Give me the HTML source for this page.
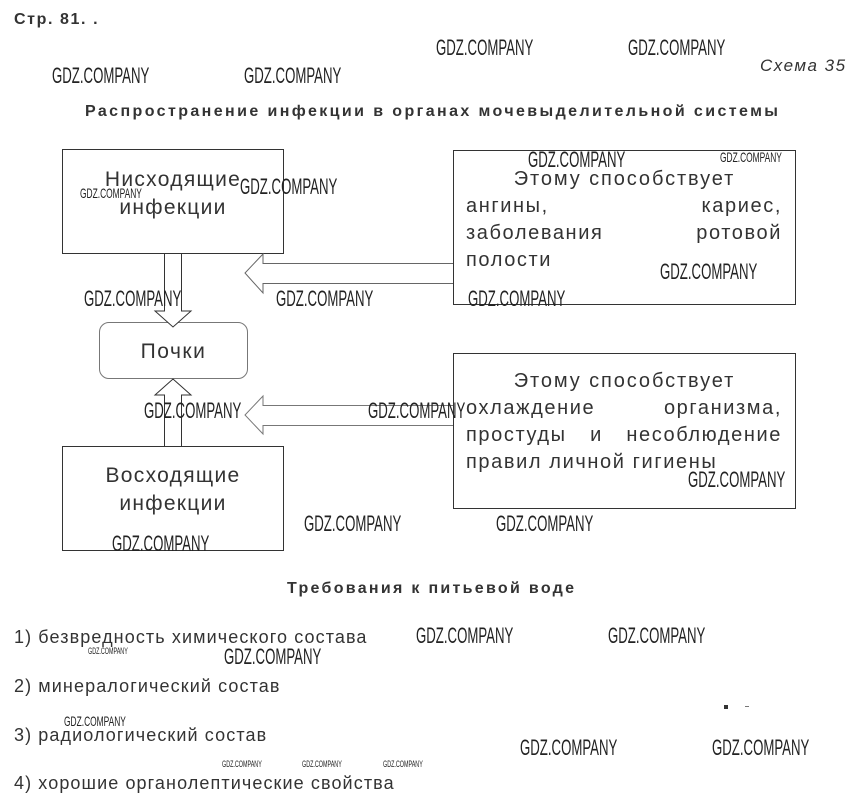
<!DOCTYPE html>
<html><head><meta charset="utf-8">
<style>
body{margin:0;width:854px;height:810px;background:#fff;position:relative;overflow:hidden;font-family:"Liberation Sans","DejaVu Sans",sans-serif;color:#333}
.a{position:absolute;white-space:nowrap;line-height:1}
.w{position:absolute;white-space:nowrap;line-height:1;font-size:22px;color:#222;transform:scaleX(0.6);transform-origin:0 0}
.s{font-size:14px}
.t{font-size:9px}
.box{position:absolute;border:1px solid #333;box-sizing:border-box}
.dt{font-size:21px;color:#333;letter-spacing:1.3px}
.li{font-size:18px;color:#333;letter-spacing:1.1px}
.r{position:absolute;left:466px;width:316px;font-size:20px;height:27px;line-height:27px;display:flex;justify-content:space-between;letter-spacing:1.6px;color:#333}
</style></head><body>
<div class="a" style="left:14px;top:12px;font-size:16px;font-weight:bold;letter-spacing:1.6px">Стр. 81. .</div>
<div class="a" style="left:760px;top:57px;font-size:17px;font-style:italic;letter-spacing:1.5px">Схема 35</div>
<div class="a" style="left:85px;top:104px;font-size:16px;font-weight:bold;letter-spacing:2.4px">Распространение инфекции в органах мочевыделительной системы</div>

<div class="box" style="left:62px;top:149px;width:222px;height:105px"></div>
<div class="box" style="left:62px;top:446px;width:222px;height:105px"></div>
<div class="box" style="left:99px;top:322px;width:149px;height:57px;border-radius:10px;border-color:#777"></div>
<div class="box" style="left:453px;top:150px;width:343px;height:155px"></div>
<div class="box" style="left:453px;top:353px;width:343px;height:156px"></div>

<svg style="position:absolute;left:0;top:0" width="854" height="810">
<g fill="#fff" stroke="#333" stroke-width="1">
<path d="M164.5 254 V311 H155 L173 327 L191 311 H181.5 V254"/>
<path d="M164.5 446 V395 H155 L173 379 L191 395 H181.5 V446"/>
<path d="M453 263.5 H263 V254 L245 273 L263 293 V283.5 H453" stroke="#666"/>
<path d="M453 405.5 H263 V396 L245 415 L263 434 V425.5 H453" stroke="#777"/>
</g>
</svg>

<div class="a dt" style="left:62px;width:222px;text-align:center;top:166px;line-height:28px">Нисходящие<br>инфекции</div>
<div class="a dt" style="left:62px;width:222px;text-align:center;top:462px;line-height:28px">Восходящие<br>инфекции</div>
<div class="a dt" style="left:99px;width:149px;text-align:center;top:341px;letter-spacing:1.5px">Почки</div>

<div class="a" style="left:453px;width:343px;text-align:center;top:166px;font-size:20px;line-height:27px;letter-spacing:1.9px">Этому способствует</div>
<div class="r" style="top:193px"><span>ангины,</span><span>кариес,</span></div>
<div class="r" style="top:220px"><span>заболевания</span><span>ротовой</span></div>
<div class="r" style="top:247px"><span>полости</span></div>
<div class="a" style="left:453px;width:343px;text-align:center;top:368px;font-size:20px;line-height:27px;letter-spacing:1.9px">Этому способствует</div>
<div class="r" style="top:395px"><span>охлаждение</span><span>организма,</span></div>
<div class="r" style="top:422px"><span>простуды</span><span>и</span><span>несоблюдение</span></div>
<div class="r" style="top:449px"><span>правил личной гигиены</span></div>

<div class="a" style="left:287px;top:581px;font-size:16px;font-weight:bold;letter-spacing:2.3px">Требования к питьевой воде</div>
<div class="a li" style="left:14px;top:628px">1) безвредность химического состава</div>
<div class="a li" style="left:14px;top:677px">2) минералогический состав</div>
<div class="a li" style="left:14px;top:726px">3) радиологический состав</div>
<div class="a li" style="left:14px;top:774px">4) хорошие органолептические свойства</div>
<div class="a" style="left:724px;top:705px;width:4px;height:4px;background:#333"></div>
<div class="a" style="left:745px;top:706px;width:4px;height:1px;background:#777"></div>

<div class="w" style="left:436px;top:37px">GDZ.COMPANY</div>
<div class="w" style="left:628px;top:37px">GDZ.COMPANY</div>
<div class="w" style="left:52px;top:65px">GDZ.COMPANY</div>
<div class="w" style="left:244px;top:65px">GDZ.COMPANY</div>
<div class="w" style="left:528px;top:149px">GDZ.COMPANY</div>
<div class="w s" style="left:720px;top:150px">GDZ.COMPANY</div>
<div class="w s" style="left:80px;top:186px">GDZ.COMPANY</div>
<div class="w" style="left:240px;top:176px">GDZ.COMPANY</div>
<div class="w" style="left:660px;top:261px">GDZ.COMPANY</div>
<div class="w" style="left:468px;top:288px">GDZ.COMPANY</div>
<div class="w" style="left:84px;top:288px">GDZ.COMPANY</div>
<div class="w" style="left:276px;top:288px">GDZ.COMPANY</div>
<div class="w" style="left:144px;top:400px">GDZ.COMPANY</div>
<div class="w" style="left:368px;top:400px">GDZ.COMPANY</div>
<div class="w" style="left:688px;top:469px">GDZ.COMPANY</div>
<div class="w" style="left:304px;top:513px">GDZ.COMPANY</div>
<div class="w" style="left:496px;top:513px">GDZ.COMPANY</div>
<div class="w" style="left:112px;top:533px">GDZ.COMPANY</div>
<div class="w" style="left:416px;top:625px">GDZ.COMPANY</div>
<div class="w" style="left:608px;top:625px">GDZ.COMPANY</div>
<div class="w" style="left:224px;top:646px">GDZ.COMPANY</div>
<div class="w t" style="left:88px;top:647px">GDZ.COMPANY</div>
<div class="w s" style="left:64px;top:714px">GDZ.COMPANY</div>
<div class="w" style="left:520px;top:737px">GDZ.COMPANY</div>
<div class="w" style="left:712px;top:737px">GDZ.COMPANY</div>
<div class="w t" style="left:222px;top:760px">GDZ.COMPANY</div>
<div class="w t" style="left:302px;top:760px">GDZ.COMPANY</div>
<div class="w t" style="left:383px;top:760px">GDZ.COMPANY</div>
</body></html>
